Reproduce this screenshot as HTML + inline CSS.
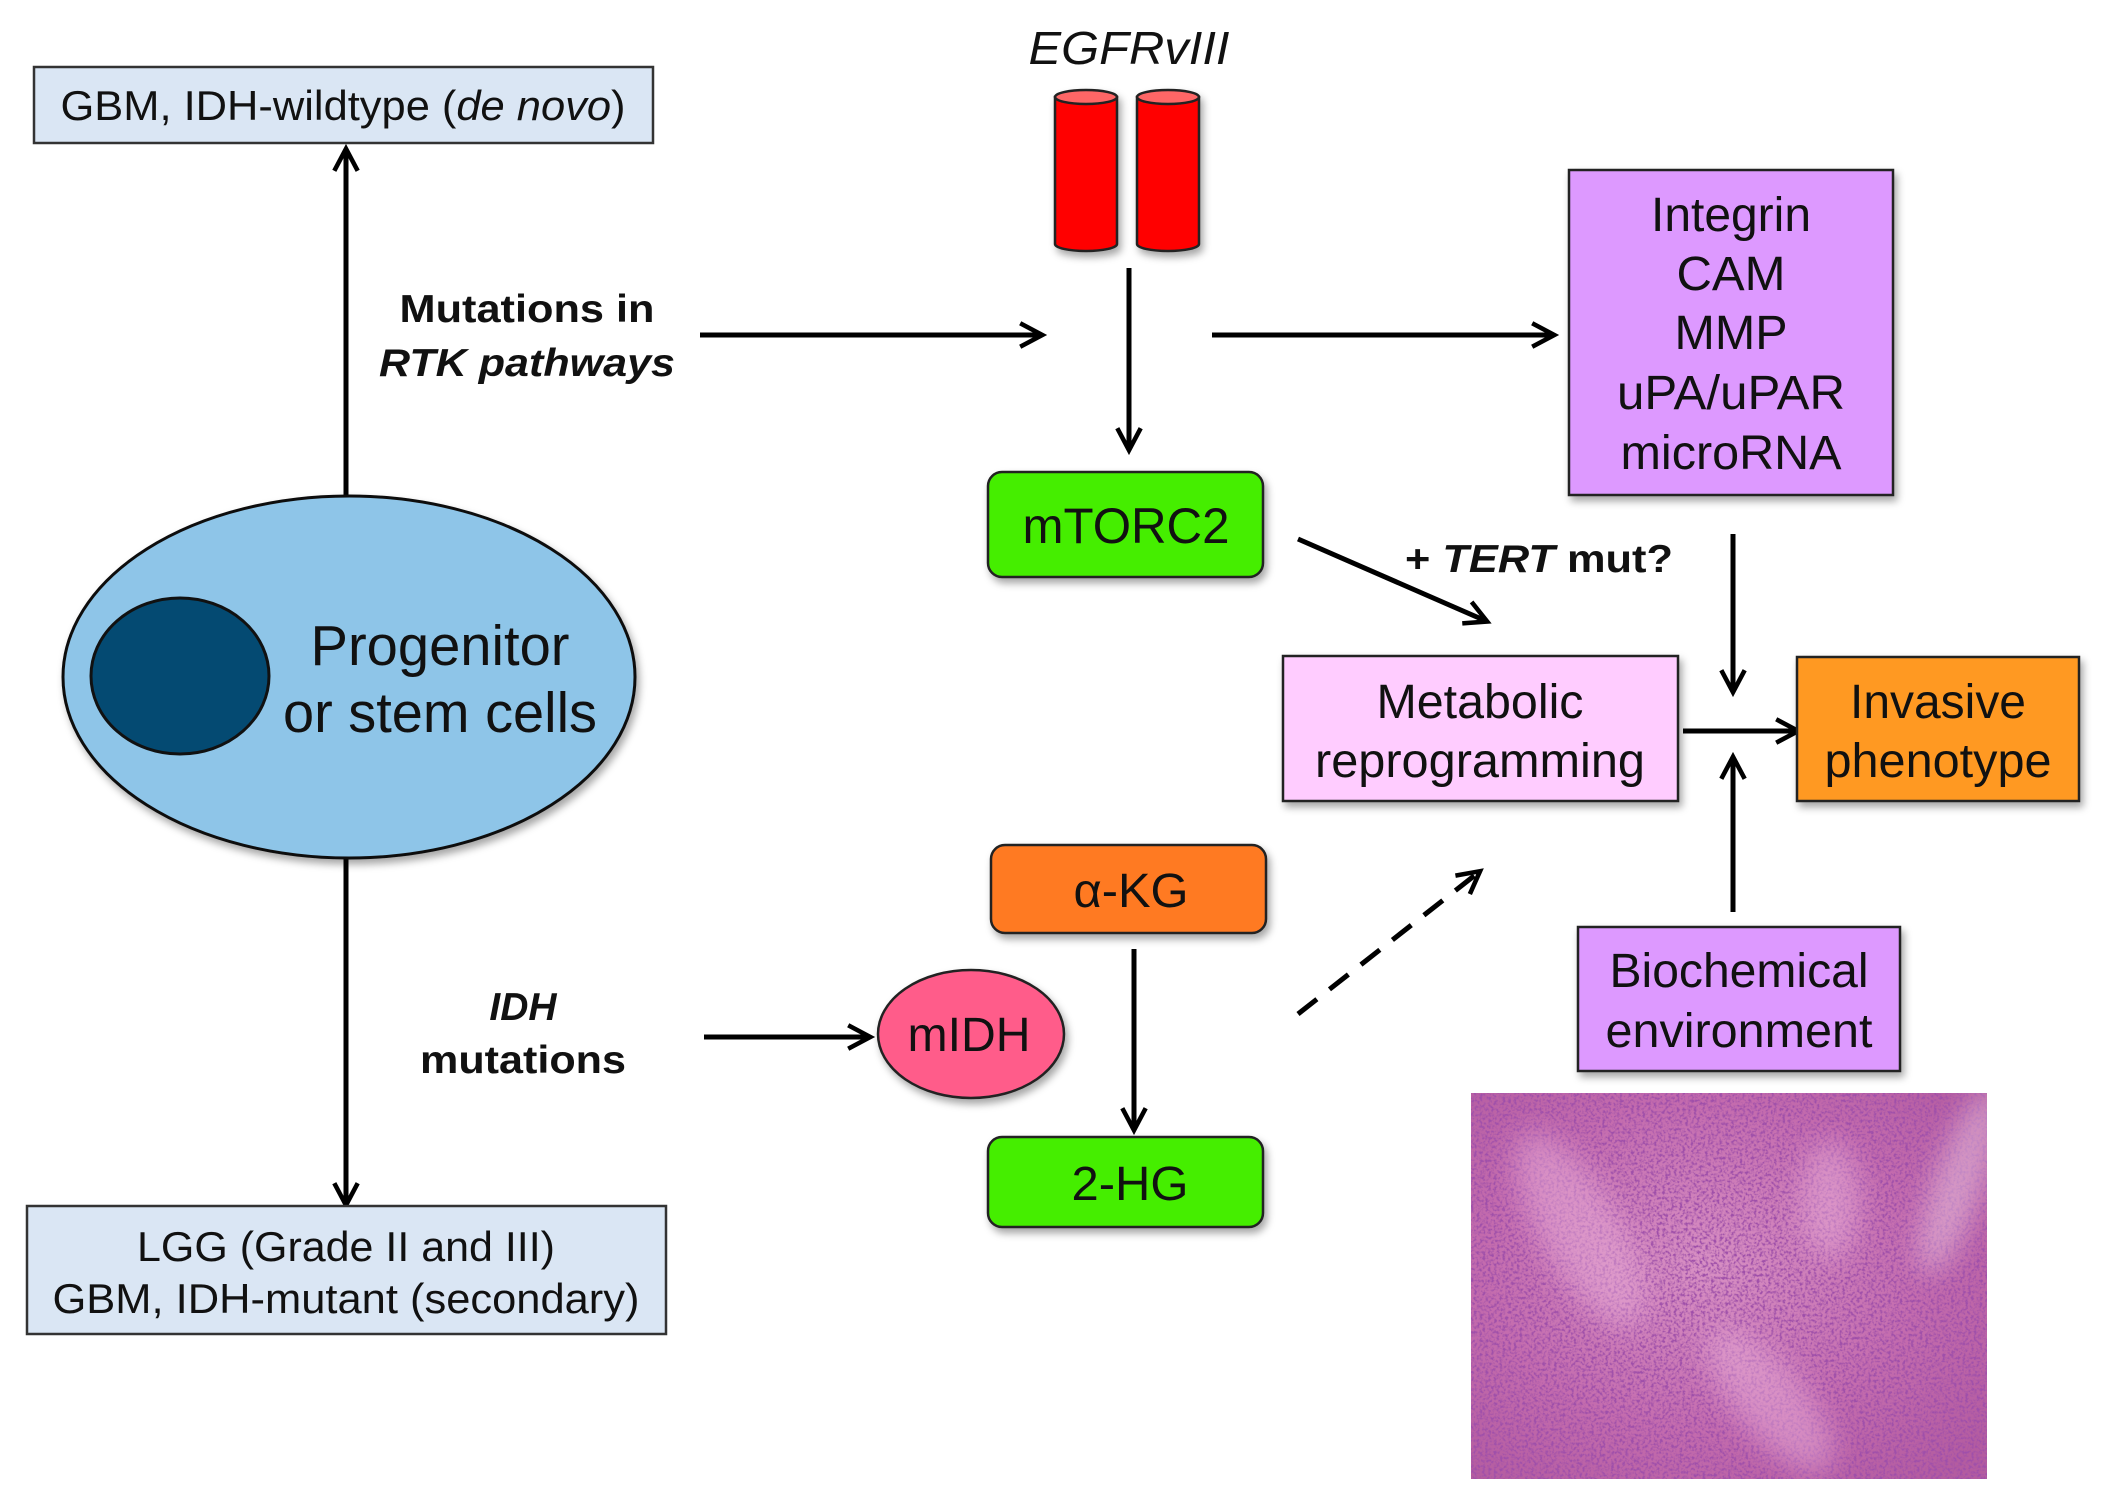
<!DOCTYPE html>
<html><head><meta charset="utf-8"><style>
html,body{margin:0;padding:0;background:#fff;}
svg{display:block;}
text{font-family:"Liberation Sans",Arial,sans-serif;fill:#111;}
</style></head><body>
<svg width="2103" height="1510" viewBox="0 0 2103 1510" xmlns="http://www.w3.org/2000/svg">
<defs>
<marker id="ah" viewBox="0 0 20 20" refX="17" refY="10" markerWidth="26" markerHeight="26" markerUnits="userSpaceOnUse" orient="auto" overflow="visible">
<path d="M1,1 L18,10 L1,19" fill="none" stroke="#000" stroke-width="3.5"/>
</marker>
<filter id="sh" x="-10%" y="-10%" width="130%" height="130%">
<feDropShadow dx="3" dy="5" stdDeviation="4" flood-color="#000" flood-opacity="0.35"/>
</filter>
<filter id="tex" x="0" y="0" width="100%" height="100%">
<feTurbulence type="fractalNoise" baseFrequency="0.35" numOctaves="2" seed="4" result="n"/>
<feColorMatrix in="n" type="matrix" values="0 0 0 0 0.35  0 0 0 0 0.08  0 0 0 0 0.4  0 0 0 3.5 -1.5" result="d"/>
<feComposite in="d" in2="SourceGraphic" operator="atop"/>
</filter>
<filter id="blur"><feGaussianBlur stdDeviation="14"/></filter>
<clipPath id="hc"><rect x="1471" y="1093" width="516" height="386"/></clipPath>
<radialGradient id="hg" cx="0.45" cy="0.45" r="0.7">
<stop offset="0" stop-color="#d890c4"/><stop offset="0.6" stop-color="#c46cae"/><stop offset="1" stop-color="#b45ca0"/>
</radialGradient>
</defs>
<g stroke="#000" stroke-width="5" fill="none">
<line x1="346" y1="496" x2="346" y2="150" marker-end="url(#ah)"/>
<line x1="346" y1="858" x2="346" y2="1204" marker-end="url(#ah)"/>
<line x1="700" y1="335" x2="1041" y2="335" marker-end="url(#ah)"/>
<line x1="1129" y1="268" x2="1129" y2="449" marker-end="url(#ah)"/>
<line x1="1212" y1="335" x2="1553" y2="335" marker-end="url(#ah)"/>
<line x1="1298" y1="539" x2="1486" y2="621" marker-end="url(#ah)"/>
<line x1="1733" y1="534" x2="1733" y2="691" marker-end="url(#ah)"/>
<line x1="1683" y1="731" x2="1797" y2="731" marker-end="url(#ah)"/>
<line x1="1733" y1="912" x2="1733" y2="758" marker-end="url(#ah)"/>
<line x1="704" y1="1037" x2="869" y2="1037" marker-end="url(#ah)"/>
<line x1="1134" y1="949" x2="1134" y2="1129" marker-end="url(#ah)"/>
<line x1="1298" y1="1014" x2="1479" y2="872" stroke-dasharray="24,16" marker-end="url(#ah)"/>
</g>
<rect x="34" y="67" width="619" height="76" fill="#dae6f4" stroke="#333" stroke-width="2.5"/>
<text x="343" y="120" font-size="42" text-anchor="middle" textLength="565" lengthAdjust="spacingAndGlyphs">GBM, IDH-wildtype (<tspan font-style="italic">de novo</tspan>)</text>
<rect x="27" y="1206" width="639" height="128" fill="#dae6f4" stroke="#333" stroke-width="2.5"/>
<text x="346" y="1261" font-size="42" text-anchor="middle" textLength="418" lengthAdjust="spacingAndGlyphs">LGG (Grade II and III)</text>
<text x="346" y="1313" font-size="42" text-anchor="middle" textLength="587" lengthAdjust="spacingAndGlyphs">GBM, IDH-mutant (secondary)</text>
<ellipse cx="349" cy="677" rx="286" ry="181" fill="#8ec5e8" stroke="#111" stroke-width="3" filter="url(#sh)"/>
<ellipse cx="180" cy="676" rx="89" ry="78" fill="#044a72" stroke="#111" stroke-width="3"/>
<text x="440" y="665" font-size="57" text-anchor="middle" textLength="259" lengthAdjust="spacingAndGlyphs">Progenitor</text>
<text x="440" y="732" font-size="57" text-anchor="middle" textLength="314" lengthAdjust="spacingAndGlyphs">or stem cells</text>
<text x="527" y="322" font-size="39" font-weight="bold" text-anchor="middle" textLength="255" lengthAdjust="spacingAndGlyphs">Mutations in</text>
<text x="527" y="376" font-size="39" font-weight="bold" font-style="italic" text-anchor="middle" textLength="296" lengthAdjust="spacingAndGlyphs">RTK pathways</text>
<text x="523" y="1020" font-size="39" font-weight="bold" font-style="italic" text-anchor="middle">IDH</text>
<text x="523" y="1073" font-size="39" font-weight="bold" text-anchor="middle" textLength="206" lengthAdjust="spacingAndGlyphs">mutations</text>
<text x="1129" y="64" font-size="46" font-style="italic" text-anchor="middle" textLength="201" lengthAdjust="spacingAndGlyphs">EGFRvIII</text>
<text x="1405" y="572" font-size="39" font-weight="bold" textLength="268" lengthAdjust="spacingAndGlyphs">+ <tspan font-style="italic">TERT</tspan> mut?</text>
<g filter="url(#sh)" stroke="#222" stroke-width="2.5">
<path d="M1055,97 L1055,244 A31,7 0 0 0 1117,244 L1117,97 Z" fill="#ff0000"/>
<ellipse cx="1086" cy="97" rx="31" ry="7" fill="#ff6666"/>
<path d="M1137,97 L1137,244 A31,7 0 0 0 1199,244 L1199,97 Z" fill="#ff0000"/>
<ellipse cx="1168" cy="97" rx="31" ry="7" fill="#ff6666"/>
</g>
<rect x="988" y="472" width="275" height="105" rx="14" fill="#44ee00" stroke="#222" stroke-width="2.5" filter="url(#sh)"/>
<text x="1126" y="543" font-size="50" text-anchor="middle" textLength="207" lengthAdjust="spacingAndGlyphs">mTORC2</text>
<rect x="1569" y="170" width="324" height="325" fill="#dd99ff" stroke="#222" stroke-width="2.5" filter="url(#sh)"/>
<g font-size="48" text-anchor="middle">
<text x="1731" y="231" textLength="160" lengthAdjust="spacingAndGlyphs">Integrin</text>
<text x="1731" y="290" textLength="109" lengthAdjust="spacingAndGlyphs">CAM</text>
<text x="1731" y="349" textLength="113" lengthAdjust="spacingAndGlyphs">MMP</text>
<text x="1731" y="409" textLength="228" lengthAdjust="spacingAndGlyphs">uPA/uPAR</text>
<text x="1731" y="469" textLength="221" lengthAdjust="spacingAndGlyphs">microRNA</text>
</g>
<rect x="1283" y="656" width="395" height="145" fill="#ffccff" stroke="#222" stroke-width="2.5" filter="url(#sh)"/>
<text x="1480" y="718" font-size="48" text-anchor="middle" textLength="207" lengthAdjust="spacingAndGlyphs">Metabolic</text>
<text x="1480" y="777" font-size="48" text-anchor="middle" textLength="330" lengthAdjust="spacingAndGlyphs">reprogramming</text>
<rect x="1797" y="657" width="282" height="144" fill="#ff9922" stroke="#222" stroke-width="2.5" filter="url(#sh)"/>
<text x="1938" y="718" font-size="48" text-anchor="middle" textLength="176" lengthAdjust="spacingAndGlyphs">Invasive</text>
<text x="1938" y="777" font-size="48" text-anchor="middle" textLength="227" lengthAdjust="spacingAndGlyphs">phenotype</text>
<rect x="1578" y="927" width="322" height="144" fill="#dd99ff" stroke="#222" stroke-width="2.5" filter="url(#sh)"/>
<text x="1739" y="987" font-size="48" text-anchor="middle" textLength="259" lengthAdjust="spacingAndGlyphs">Biochemical</text>
<text x="1739" y="1047" font-size="48" text-anchor="middle" textLength="267" lengthAdjust="spacingAndGlyphs">environment</text>
<rect x="991" y="845" width="275" height="88" rx="14" fill="#ff7a22" stroke="#222" stroke-width="2.5" filter="url(#sh)"/>
<text x="1131" y="907" font-size="48" text-anchor="middle" textLength="115" lengthAdjust="spacingAndGlyphs">α-KG</text>
<rect x="988" y="1137" width="275" height="90" rx="14" fill="#44ee00" stroke="#222" stroke-width="2.5" filter="url(#sh)"/>
<text x="1130" y="1200" font-size="48" text-anchor="middle" textLength="117" lengthAdjust="spacingAndGlyphs">2-HG</text>
<ellipse cx="971" cy="1034" rx="93" ry="64" fill="#ff5c8a" stroke="#222" stroke-width="2.5" filter="url(#sh)"/>
<text x="969" y="1051" font-size="48" text-anchor="middle" textLength="123" lengthAdjust="spacingAndGlyphs">mIDH</text>
<rect x="1471" y="1093" width="516" height="386" fill="url(#hg)" filter="url(#tex)"/>
<g clip-path="url(#hc)" filter="url(#blur)" opacity="0.45">
<ellipse cx="1580" cy="1230" rx="40" ry="110" fill="#f0b8de" transform="rotate(-30 1580 1230)"/>
<ellipse cx="1770" cy="1400" rx="35" ry="90" fill="#f0b8de" transform="rotate(-40 1770 1400)"/>
<ellipse cx="1960" cy="1180" rx="25" ry="100" fill="#f4d8ea" transform="rotate(20 1960 1180)"/>
<ellipse cx="1830" cy="1200" rx="30" ry="60" fill="#f0b8de"/>
</g>
</svg>
</body></html>
